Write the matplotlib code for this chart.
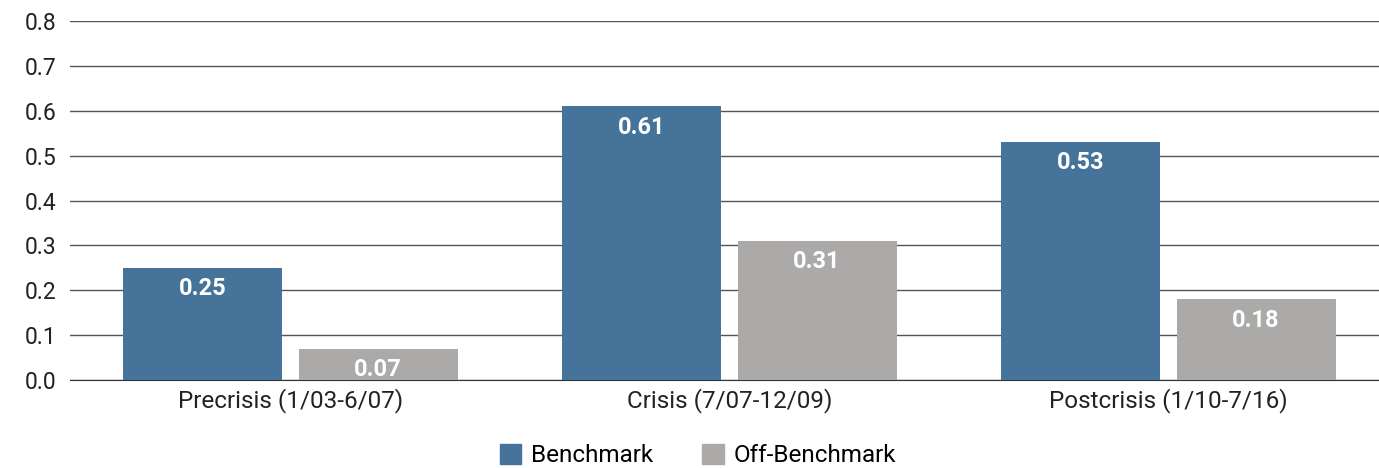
import numpy as np
import matplotlib.pyplot as plt
from matplotlib.patches import Patch

categories = ["Precrisis (1/03-6/07)", "Crisis (7/07-12/09)", "Postcrisis (1/10-7/16)"]
benchmark = [0.25, 0.61, 0.53]
off_benchmark = [0.07, 0.31, 0.18]
yticks = [0.0, 0.1, 0.2, 0.3, 0.4, 0.5, 0.6, 0.7, 0.8]

blue = "#46739a"
gray = "#abaaa9"

plt.rcParams['font.family'] = ['Roboto', 'DejaVu Sans']

fig = plt.figure(figsize=(13.79, 4.68), dpi=100)
ax = fig.add_axes([70 / 1379, 1 - 380 / 468, 1309 / 1379, 359 / 468])

x = np.arange(len(categories))
w = 0.362
off = 0.2
b1 = ax.bar(x - off, benchmark, w, color=blue, zorder=3)
b2 = ax.bar(x + off, off_benchmark, w, color=gray, zorder=3)

for bars, vals in ((b1, benchmark), (b2, off_benchmark)):
    for r, v in zip(bars, vals):
        ax.annotate(f"{v:.2f}", (r.get_x() + r.get_width() / 2, v),
                    xytext=(0, -15), textcoords="offset points",
                    ha="center", va="center", color="white",
                    fontsize=17, fontweight="bold", zorder=4)

ax.set_xlim(-0.502, 2.48)
ax.set_ylim(0, 0.8)
ax.set_yticks(yticks)
ax.set_yticklabels([f"{t:.1f}" for t in yticks])
ax.set_xticks(x)
ax.set_xticklabels(categories, fontsize=17.5)
ax.grid(axis="y", color="#555555", linewidth=1, zorder=0)
ax.set_axisbelow(True)
for s in ["top", "right", "left"]:
    ax.spines[s].set_visible(False)
ax.spines["bottom"].set_color("#333333")
ax.tick_params(axis="both", length=0, colors="#222222")
ax.tick_params(axis="y", pad=10, labelsize=16.5)
ax.tick_params(axis="x", pad=6)

handles = [Patch(color=blue, label="Benchmark"), Patch(color=gray, label="Off-Benchmark")]
fig.legend(handles=handles, loc="lower center", bbox_to_anchor=(0.506, -0.045), ncol=2,
           frameon=False, fontsize=17.5, handlelength=0.9, handleheight=0.9,
           columnspacing=2.0, handletextpad=0.4)

fig.savefig("out.png", dpi=100)
